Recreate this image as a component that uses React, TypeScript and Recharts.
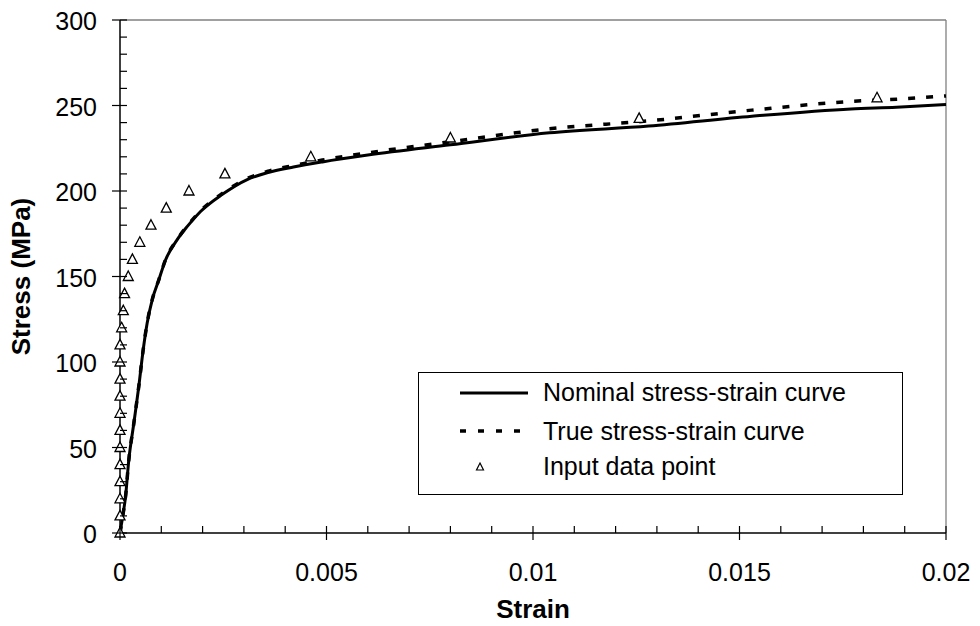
import React from 'react';
import {
  ComposedChart,
  Line,
  Scatter,
  XAxis,
  YAxis,
  ReferenceLine,
  Legend,
} from 'recharts';

const nominalStrain = [
  0, 0.000077, 0.000133, 0.000213, 0.000334, 0.000455, 0.000561, 0.000658, 0.00078, 0.00094,
  0.0011, 0.00137, 0.00163, 0.00195, 0.00247, 0.00308, 0.00356, 0.0042, 0.0049, 0.006,
  0.008, 0.0104, 0.0128, 0.0153, 0.0177, 0.0188, 0.02,
];
const nominalStress = [
  0, 11.5, 21, 42.7, 64, 85.7, 107, 122.8, 136.4, 148,
  159.5, 171, 179.3, 188, 197.9, 206.7, 210.6, 214, 217, 221,
  227, 234, 238, 243.7, 248, 249, 250.6,
];
const trueStress = [
  0, 11.5, 21, 42.7, 64, 85.8, 107.1, 122.9, 136.5, 148.1,
  159.7, 171.2, 179.6, 188.4, 198.4, 207.3, 211.4, 214.9, 218.1, 222.3,
  228.8, 236.4, 241, 247.3, 252.4, 253.7, 255.6,
];
const inputStrain = [
  0, 0, 0, 0, 0, 0, 0, 0, 0, 0, 0, 0, 0.00004, 0.00008, 0.00011, 0.0002, 0.0003, 0.00048,
  0.00075, 0.00112, 0.00167, 0.00254, 0.00462, 0.008, 0.01257, 0.01833,
];
const inputStress = [
  0, 10, 20, 30, 40, 50, 60, 70, 80, 90, 100, 110, 120, 130, 140, 150, 160, 170,
  180, 190, 200, 210, 220, 231, 242.5, 254.5,
];
const xTicks = [
  0, 0.001, 0.002, 0.003, 0.004, 0.005, 0.006, 0.007, 0.008, 0.009, 0.01,
  0.011, 0.012, 0.013, 0.014, 0.015, 0.016, 0.017, 0.018, 0.019, 0.02,
];
const yTicks = [
  0, 10, 20, 30, 40, 50, 60, 70, 80, 90, 100, 110, 120, 130, 140, 150, 160, 170, 180, 190,
  200, 210, 220, 230, 240, 250, 260, 270, 280, 290, 300,
];

const nominalData = nominalStrain.map((x, i) => ({ x, y: nominalStress[i] }));
const trueData = nominalStrain.map((x, i) => ({ x, y: trueStress[i] }));
const inputData = inputStrain.map((x, i) => ({ x, y: inputStress[i] }));

const FONT = '"Liberation Sans", Arial, sans-serif';

function XTick(props: any) {
  const { x, y, payload } = props;
  const v = payload.value;
  const major = Math.round(v * 1000) % 5 === 0;
  const label = v === 0 ? '0' : String(parseFloat(v.toFixed(3)));
  return (
    <g>
      <line x1={x} x2={x} y1={y - 7} y2={major ? y + 7 : y} stroke="#000" strokeWidth={1.2} />
      {major && (
        <text x={x} y={y + 48} textAnchor="middle" fontSize={25} fontFamily={FONT} fill="#000">
          {label}
        </text>
      )}
    </g>
  );
}

function YTick(props: any) {
  const { x, y, payload } = props;
  const v = payload.value;
  const major = v % 50 === 0;
  return (
    <g>
      <line x1={major ? x - 8 : x} x2={x + 7} y1={y} y2={y} stroke="#000" strokeWidth={1.2} />
      {major && (
        <text x={x - 23} y={y + 10} textAnchor="end" fontSize={25} fontFamily={FONT} fill="#000">
          {v}
        </text>
      )}
    </g>
  );
}

function XTitle(props: any) {
  const vb = props.viewBox;
  return (
    <text
      x={vb.x + vb.width / 2}
      y={vb.y + 85}
      textAnchor="middle"
      fontSize={26}
      fontWeight="bold"
      fontFamily={FONT}
      fill="#000"
    >
      Strain
    </text>
  );
}

function YTitle(props: any) {
  const vb = props.viewBox;
  const cx = 30;
  const cy = vb.y + vb.height / 2;
  return (
    <text
      x={cx}
      y={cy}
      transform={`rotate(-90, ${cx}, ${cy})`}
      textAnchor="middle"
      fontSize={26}
      fontWeight="bold"
      fontFamily={FONT}
      fill="#000"
    >
      Stress (MPa)
    </text>
  );
}

function Triangle(props: any) {
  const { cx, cy } = props;
  return (
    <path
      d={`M${cx},${cy - 5.5} L${cx + 5},${cy + 4} L${cx - 5},${cy + 4} Z`}
      fill="#fff"
      stroke="#000"
      strokeWidth={1.3}
    />
  );
}

function LegendBox() {
  return (
    <svg width={485} height={123} style={{ display: 'block', background: '#fff' }}>
      <rect x={0.5} y={0.5} width={484} height={122} fill="#fff" stroke="#000" strokeWidth={1} />
      <line x1={42} x2={110} y1={21} y2={21} stroke="#000" strokeWidth={3} />
      <text x={125} y={29} fontSize={25} fontFamily={FONT} fill="#000">
        Nominal stress-strain curve
      </text>
      <line x1={42} x2={110} y1={59} y2={59} stroke="#000" strokeWidth={3.5} strokeDasharray="6 12" />
      <text x={125} y={68} fontSize={25} fontFamily={FONT} fill="#000">
        True stress-strain curve
      </text>
      <path d="M62,91 L65.5,98 L58.5,98 Z" fill="#fff" stroke="#000" strokeWidth={1.2} />
      <text x={125} y={103} fontSize={25} fontFamily={FONT} fill="#000">
        Input data point
      </text>
    </svg>
  );
}

export default function App() {
  return (
    <div style={{ position: 'absolute', left: 0, top: 0, background: '#fff' }}>
      <ComposedChart width={980} height={626} margin={{ top: 20, right: 34, bottom: 0, left: 0 }}>
        <XAxis
          type="number"
          dataKey="x"
          domain={[0, 0.02]}
          ticks={xTicks}
          interval={0}
          height={93}
          tickSize={0}
          tickMargin={0}
          tickLine={false}
          axisLine={{ stroke: '#000', strokeWidth: 1.5 }}
          tick={XTick}
          label={XTitle}
        />
        <YAxis
          type="number"
          domain={[0, 300]}
          ticks={yTicks}
          interval={0}
          width={120}
          tickSize={0}
          tickMargin={0}
          tickLine={false}
          axisLine={{ stroke: '#000', strokeWidth: 1.5 }}
          tick={YTick}
          label={YTitle}
        />
        <ReferenceLine y={300} stroke="#808080" strokeWidth={1.3} />
        <ReferenceLine x={0.02} stroke="#808080" strokeWidth={1.3} />
        <Line
          data={nominalData}
          dataKey="y"
          type="monotone"
          stroke="#000"
          strokeWidth={3}
          dot={false}
          activeDot={false}
          isAnimationActive={false}
        />
        <Line
          data={trueData}
          dataKey="y"
          type="monotone"
          stroke="#000"
          strokeWidth={3.5}
          strokeDasharray="7 11"
          dot={false}
          activeDot={false}
          isAnimationActive={false}
        />
        <Scatter data={inputData} dataKey="y" shape={Triangle} isAnimationActive={false} />
        <Legend
          layout="vertical"
          align="center"
          verticalAlign="middle"
          wrapperStyle={{ left: 418, top: 372, width: 485, height: 123 }}
          content={LegendBox}
        />
      </ComposedChart>
    </div>
  );
}
